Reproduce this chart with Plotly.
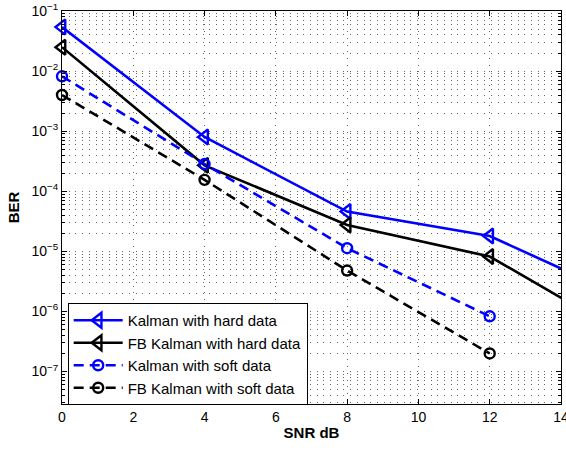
import plotly.graph_objects as go

snr = [0, 4, 8, 12, 16]
kalman_hard = [0.054, 8.0e-4, 4.6e-5, 1.8e-5, 1.5e-6]
fb_kalman_hard = [0.025, 2.7e-4, 2.75e-5, 8.2e-6, 3.5e-7]
snr_soft = [0, 4, 8, 12]
kalman_soft = [8.2e-3, 2.84e-4, 1.13e-5, 8.3e-7]
fb_kalman_soft = [4.0e-3, 1.55e-4, 4.8e-6, 2.0e-7]

series_names = ["Kalman with hard data", "FB Kalman with hard data",
                "Kalman with soft data", "FB Kalman with soft data"]

x_ticks = [0, 2, 4, 6, 8, 10, 12, 14]
y_ticks = [1e-7, 1e-6, 1e-5, 1e-4, 1e-3, 1e-2, 1e-1]
y_ticktext = ["10<sup>\u22127</sup>", "10<sup>\u22126</sup>", "10<sup>\u22125</sup>",
              "10<sup>\u22124</sup>", "10<sup>\u22123</sup>", "10<sup>\u22122</sup>",
              "10<sup>\u22121</sup>"]

BLUE = "#0000ff"
BLACK = "#000000"
DASH = "10px,6px"
FONT = "Liberation Sans, Arial, sans-serif"

fig = go.Figure()
specs = [
    (snr, kalman_hard, BLUE, "solid", "triangle-left-open", 13),
    (snr, fb_kalman_hard, BLACK, "solid", "triangle-left-open", 13),
    (snr_soft, kalman_soft, BLUE, DASH, "circle-open", 10),
    (snr_soft, fb_kalman_soft, BLACK, DASH, "circle-open", 10),
]
for i, (xs, ys, c, d, sym, ms) in enumerate(specs):
    fig.add_trace(go.Scatter(
        x=xs, y=ys, name=series_names[i], mode="lines+markers",
        line=dict(color=c, width=2.6, dash=d),
        marker=dict(symbol=sym, size=ms, color=c, line=dict(color=c, width=2.4)),
        cliponaxis=False,
    ))

grid_dash = "1px,5.7px"
grid_color = "#666666"
axis_common = dict(
    showline=True, linecolor="black", linewidth=1, mirror="ticks",
    ticks="inside", tickcolor="black", ticklen=5,
    showgrid=True, gridcolor=grid_color, gridwidth=1, griddash=grid_dash,
    zeroline=False, automargin=False, ticklabeloverflow="allow",
    tickfont=dict(family=FONT, size=14, color="black"),
)

fig.update_xaxes(
    range=[0, 14], tickmode="array", tickvals=x_ticks,
    title=dict(text="<b>SNR dB</b>", font=dict(family=FONT, size=15, color="black"), standoff=3),
    **axis_common,
)
fig.update_yaxes(
    type="log", range=[-7.54, -1], tickmode="array", tickvals=y_ticks, ticktext=y_ticktext,
    title=dict(text="<b>BER</b>", font=dict(family=FONT, size=15, color="black"), standoff=8),
    minor=dict(dtick="D1", ticks="inside", ticklen=3, tickcolor="black",
               showgrid=True, gridcolor=grid_color, gridwidth=1, griddash=grid_dash),
    **axis_common,
)

fig.update_layout(
    width=566, height=450,
    margin=dict(l=62, r=4.5, t=10.7, b=45.7),
    paper_bgcolor="white", plot_bgcolor="white",
    font=dict(family=FONT, size=14, color="black"),
    legend=dict(
        x=0.0114, y=0.257, xanchor="left", yanchor="top",
        bgcolor="white", bordercolor="black", borderwidth=1,
        font=dict(family=FONT, size=15, color="black"),
        itemwidth=49,
    ),
    showlegend=True,
)

# remove the default 8px page margin so the figure fills the window
fig.write_html("out.html", config={"displayModeBar": False},
               post_script="document.body.style.margin='0';")
